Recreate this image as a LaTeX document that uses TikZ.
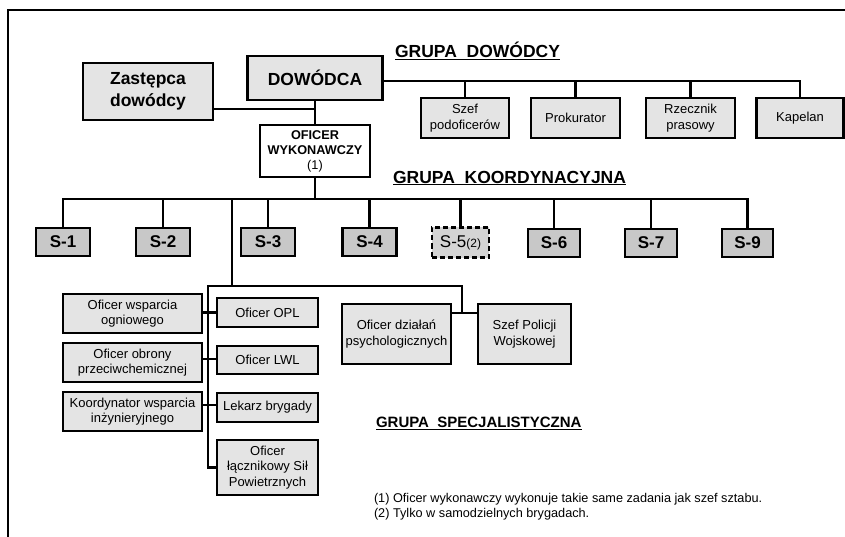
\documentclass[tikz,border=0pt]{standalone}
\usepackage{fontspec}
\setmainfont{Liberation Sans}
\begin{document}
\begin{tikzpicture}[x=1pt,y=-1pt,
  every node/.style={inner sep=0pt, outer sep=0pt},
  box/.style={draw, line width=2.5pt, fill=boxgray, align=center},
  bigbox/.style={box, font=\fontsize{17.5}{21.5}\selectfont\bfseries},
  smallbox/.style={box, font=\fontsize{13}{15.5}\selectfont},
  sbox/.style={box, fill=sgray, minimum width=54pt, minimum height=28pt,
    font=\fontsize{17}{19}\selectfont\bfseries},
  title/.style={font=\fontsize{17.5}{19}\selectfont\bfseries, anchor=west},
  link/.style={line width=2.2pt},
  frameline/.style={line width=2pt}]
\definecolor{boxgray}{HTML}{E4E4E4}
\definecolor{sgray}{HTML}{C8C8C8}
\definecolor{s5gray}{HTML}{D4D4D4}

\useasboundingbox (0,0) rectangle (845,537);
\draw[frameline] (845,10) -- (8,10) -- (8,537);

% command group
\node[bigbox, minimum width=130pt, minimum height=57pt] (zast) at (148,91.5) {Zastępca\\dowódcy};
\node[bigbox, minimum width=135pt, minimum height=44pt] (dow) at (315,78) {DOWÓDCA};
\node[box, fill=white, minimum width=110pt, minimum height=52pt,
  font=\fontsize{12.7}{15}\selectfont] (ofw) at (315,151) {\textbf{OFICER}\\\textbf{WYKONAWCZY}\\(1)};
\node[smallbox, minimum width=88pt, minimum height=40pt] (szef) at (465,118) {Szef\\podoficerów};
\node[smallbox, minimum width=89pt, minimum height=40pt] (prok) at (575.5,118) {Prokurator};
\node[smallbox, minimum width=89pt, minimum height=40pt] (rzecz) at (690.5,118) {Rzecznik\\prasowy};
\node[smallbox, minimum width=87pt, minimum height=40pt] (kap) at (800,118) {Kapelan};

\node[title] (tdow) at (395,51) {\underline{GRUPA\ \ DOWÓDCY}};

\coordinate (zj) at (315,109);
\draw[link] (ofw.north) -- (dow.south);
\draw[link] (zast.east |- zj) -- (zj);
\draw[link] (dow.east |- 0,81) -| (kap.north);
\draw[link] (szef.north) -- (szef.north |- 0,81);
\draw[link] (prok.north) -- (prok.north |- 0,81);
\draw[link] (rzecz.north) -- (rzecz.north |- 0,81);

% coordination group
\node[title] (tkoord) at (393,178) {\underline{GRUPA\ \ KOORDYNACYJNA}};

\node[sbox] (s1) at (63,242) {S-1};
\node[sbox] (s2) at (163,242) {S-2};
\node[sbox] (s3) at (268,242) {S-3};
\node[sbox] (s4) at (369.5,242) {S-4};
\node[sbox, fill=s5gray, dash pattern=on 5pt off 3pt, minimum width=57pt, minimum height=30pt,
  font=\fontsize{17}{19}\selectfont] (s5) at (460.5,242.5) {S-5\fontsize{12}{14}\selectfont(2)};
\node[sbox, minimum width=52pt] (s6) at (554,243) {S-6};
\node[sbox, minimum width=52pt] (s7) at (651,243) {S-7};
\node[sbox, minimum width=51pt] (s9) at (747.5,243) {S-9};

\coordinate (kbus) at (0,199);
\draw[link] (ofw.south) -- (ofw.south |- kbus);
\draw[link] (s1.north) |- (s9.north |- kbus) -- (s9.north);
\foreach \s in {s2,s3,s4,s5,s6,s7}
  \draw[link] (\s.north) -- (\s.north |- kbus);

% specialist group
\node[smallbox, minimum width=139pt, minimum height=39pt] (wo) at (132.5,313.5) {Oficer wsparcia\\ogniowego};
\node[smallbox, minimum width=139pt, minimum height=39pt] (oc) at (132.5,362.5) {Oficer obrony\\przeciwchemicznej};
\node[smallbox, minimum width=139pt, minimum height=39pt] (kw) at (132.5,411.5) {Koordynator wsparcia\\inżynieryjnego};
\node[smallbox, minimum width=101pt, minimum height=29pt] (opl) at (267.5,312.5) {Oficer OPL};
\node[smallbox, minimum width=101pt, minimum height=28pt] (lwl) at (267.5,360) {Oficer LWL};
\node[smallbox, minimum width=101pt, minimum height=29pt] (lek) at (267.5,407.5) {Lekarz brygady};
\node[smallbox, minimum width=101pt, minimum height=55pt] (lacz) at (267.5,467.5) {Oficer\\łącznikowy Sił\\Powietrznych};
\node[smallbox, minimum width=109pt, minimum height=60pt] (od) at (396.5,334) {Oficer działań\\psychologicznych};
\node[smallbox, minimum width=93pt, minimum height=60pt] (spw) at (524.5,334) {Szef Policji\\Wojskowej};

\node[title, font=\fontsize{15}{17}\selectfont\bfseries] (tspec) at (376,423) {\underline{GRUPA\ \ SPECJALISTYCZNA}};

\coordinate (kj) at (232,199);
\coordinate (sj) at (232,286);
\coordinate (sl) at (208,286);
\coordinate (sr) at (462,286);
\coordinate (sm) at (462,313);
\draw[link] (kj) -- (sj);
\draw[link] (lacz.west) -| (sl) -- (sr) -- (sm);
\draw[link] (od.east |- sm) -- (spw.west |- sm);
\draw[link] (wo.east |- opl.west) -- (opl.west);
\draw[link] (oc.east |- 0,359) -- (lwl.west |- 0,359);
\draw[link] (kw.east |- 0,405) -- (lek.west |- 0,405);

% footnotes
\node[anchor=west, align=left, font=\fontsize{12.7}{15}\selectfont] (notes) at (374,506.5)
  {(1) Oficer wykonawczy wykonuje takie same zadania jak szef sztabu.\\(2) Tylko w samodzielnych brygadach.};
\end{tikzpicture}
\end{document}
